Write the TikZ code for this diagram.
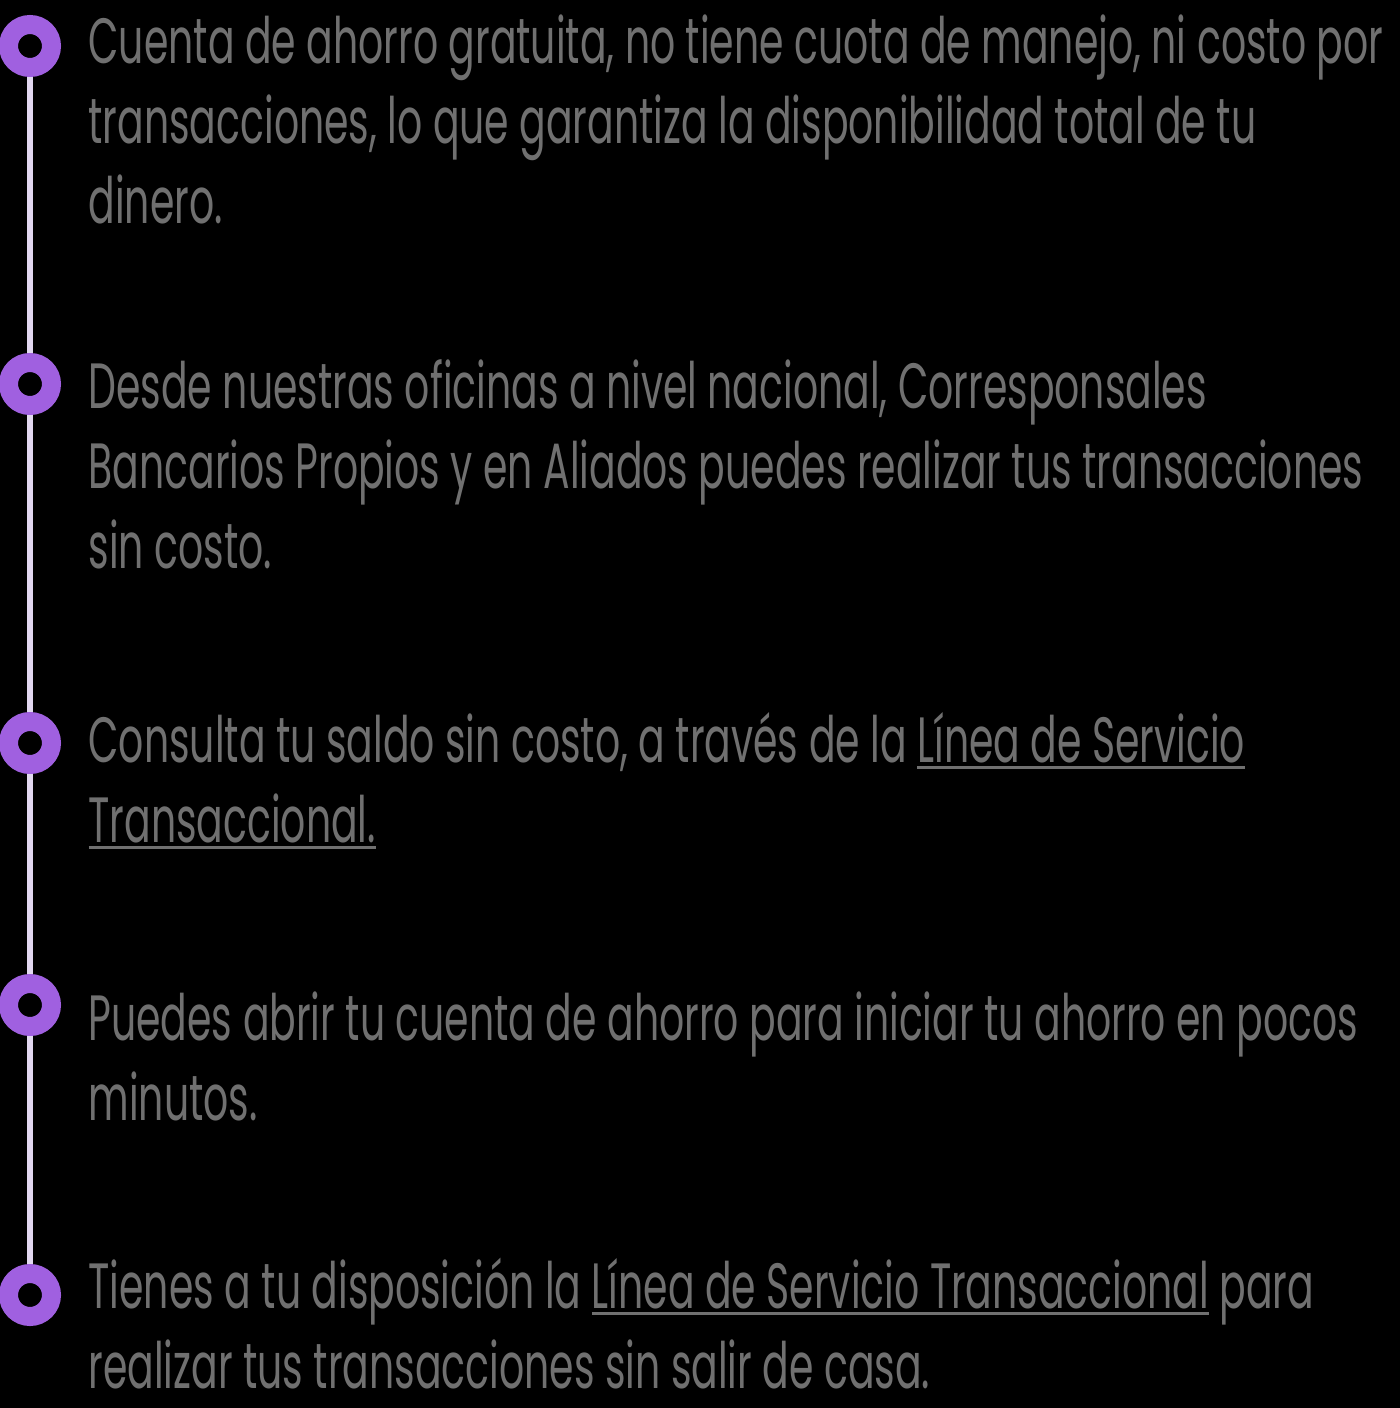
\documentclass[tikz,border=0pt]{standalone}
\usepackage{fontspec}
\setmainfont{Poppins}[FakeStretch=0.615]
\usepackage{tikz}
\usetikzlibrary{positioning}

\definecolor{textgray}{RGB}{112,112,112}
\definecolor{ringpurple}{RGB}{160,96,224}
\definecolor{raillilac}{RGB}{226,216,240}

\newcommand{\linkline}[1]{\setbox0\hbox{#1}\rlap{\rule[-3.5pt]{\wd0}{1.5pt}}\box0{}}

\begin{document}
\begin{tikzpicture}[x=0.5pt,y=-0.5pt,semithick]

\tikzstyle{dot}=[circle,draw=ringpurple,line width=9.5pt,minimum size=21.5pt,inner sep=0pt]
\tikzstyle{item}=[anchor=base west,align=left,inner sep=0pt,text=textgray,
  font=\fontsize{32}{40}\selectfont]
\tikzstyle{rail}=[draw=raillilac,line width=3.2pt]

\useasboundingbox (0,0) rectangle (1400,1408);
\fill[black] (0,0) rectangle (1400,1408);

\node[dot] (dot1) at (30,46)   {};
\node[dot] (dot2) at (30,384)  {};
\node[dot] (dot3) at (30,743)  {};
\node[dot] (dot4) at (30,1005) {};
\node[dot] (dot5) at (30,1295) {};

\path (dot1) edge [rail] (dot2)
      (dot2) edge [rail] (dot3)
      (dot3) edge [rail] (dot4)
      (dot4) edge [rail] (dot5);

% base anchor sits on the last line
\node[item] (item1) at (88,223)
  {Cuenta de ahorro gratuita, no tiene cuota de manejo, ni costo por\\
   transacciones, lo que garantiza la disponibilidad total de tu\\
   dinero.};
\node[item] (item2) at (88,568)
  {Desde nuestras oficinas a nivel nacional, Corresponsales\\
   Bancarios Propios y en Aliados puedes realizar tus transacciones\\
   sin costo.};
\node[item] (item3) at (88,842)
  {Consulta tu saldo sin costo, a través de la \linkline{Línea de Servicio}\\
   \linkline{Transaccional.}};
\node[item] (item4) at (88,1120)
  {Puedes abrir tu cuenta de ahorro para iniciar tu ahorro en pocos\\
   minutos.};
\node[item] (item5) at (88,1388)
  {Tienes a tu disposición la \linkline{Línea de Servicio Transaccional} para\\
   realizar tus transacciones sin salir de casa.};
\end{tikzpicture}
\end{document}
